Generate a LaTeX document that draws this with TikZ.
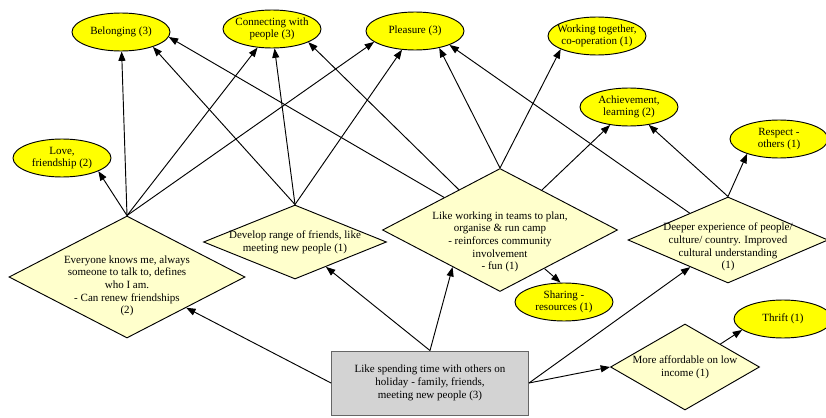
\documentclass[tikz,border=0pt]{standalone}
\usepackage{fontspec}
\setmainfont{Liberation Serif}
\usetikzlibrary{shapes.geometric, arrows.meta}
\definecolor{valuefill}{HTML}{FFFF00}
\definecolor{reasonfill}{HTML}{FFFFCC}
\definecolor{motivefill}{HTML}{D3D3D3}
\tikzset{value/.style={draw,ellipse,fill=valuefill,minimum width=29.4mm,minimum height=11.4mm,inner sep=0pt},
         reason/.style={draw,diamond,fill=reasonfill,inner sep=0pt},
         motive/.style={draw=black!60,fill=motivefill,minimum width=59.1mm,minimum height=19.2mm,align=center},
         every label/.style={align=center},
        }

\begin{document}
\begin{tikzpicture}[x=0.3mm,y=-0.3mm,line width=0.8pt,>={Triangle[length=8pt,width=6pt]},
                    font=\fontsize{9.4}{10.8}\selectfont]
        \useasboundingbox (0,0) rectangle (826,418);

        \node[value,label=center:{Belonging (3)}](belonging)at(121,32){};
        \node[value,label={center:Connecting with\\people (3)}](connecting)at(272,29){};
        \node[value,label=center:{Pleasure (3)}](pleasure)at(415,31){};
        \node[value,label={center:Working together,\\co-operation (1)}](working)at(597,36){};
        \node[value,label={center:Achievement,\\learning (2)}](achievement)at(629,107){};
        \node[value,label={center:Respect -\\others (1)}](respect)at(779,139){};
        \node[value,label={center:Love,\\friendship (2)}](love)at(62,158){};
        \node[value,label={center:Sharing -\\resources (1)}](sharing)at(564,302){};
        \node[value,label=center:{Thrift (1)}](thrift)at(783,319){};

        \node[reason,minimum width=70.8mm,minimum height=36.6mm,
              label={[yshift=-2.7mm]center:Everyone knows me, always\\someone to talk to, defines\\who I am.\\- Can renew friendships\\(2)}](everyone)at(127,277){};
        \node[reason,minimum width=54.9mm,minimum height=22.2mm,
              label={center:Develop range of friends, like\\meeting new people (1)}](develop)at(295,242){};
        \node[reason,minimum width=70.5mm,minimum height=36.9mm,
              label={[yshift=-3.6mm]center:Like working in teams to plan,\\organise \& run camp\\- reinforces community\\involvement\\- fun (1)}](teams)at(500,230){};
        \node[reason,minimum width=60mm,minimum height=25.8mm,
              label={[yshift=-2.1mm]center:Deeper experience of people/\\culture/ country. Improved\\cultural understanding\\(1)}](deeper)at(728,240){};
        \node[reason,minimum width=44.7mm,minimum height=25.8mm,
              label={center:More affordable on low\\income (1)}](affordable)at(685,367){};

        \node[motive](holiday)at(430,383){Like spending time with others on\\holiday - family, friends,\\meeting new people (3)};

        \draw[->](holiday.west)--(everyone);
        \draw[->](holiday.north)--(develop);
        \draw[->](holiday.north)--(teams.218);
        \draw[->](holiday.east)--(deeper);
        \draw[->](holiday.east)--(affordable.west);

        \draw[->](everyone.north)--(love.-20);
        \draw[->](everyone.north)--(belonging);
        \draw[->](everyone.north)--(connecting);
        \draw[->](everyone.north)--(pleasure.195);

        \draw[->](develop.north)--(belonging.-25);
        \draw[->](develop.north)--(connecting);
        \draw[->](develop.north)--(pleasure);

        \draw[->](teams)--(belonging.-6);
        \draw[->](teams)--(connecting.-20);
        \draw[->](teams.north)--(pleasure.-35);
        \draw[->](teams.north)--(working.200);
        \draw[->](teams)--(achievement);
        \draw[->](teams)--(sharing.100);

        \draw[->](deeper)--(pleasure.-22);
        \draw[->](deeper.north)--(achievement);
        \draw[->](deeper.north)--(respect.205);

        \draw[->](affordable)--(thrift.195);
    \end{tikzpicture}
\end{document}
